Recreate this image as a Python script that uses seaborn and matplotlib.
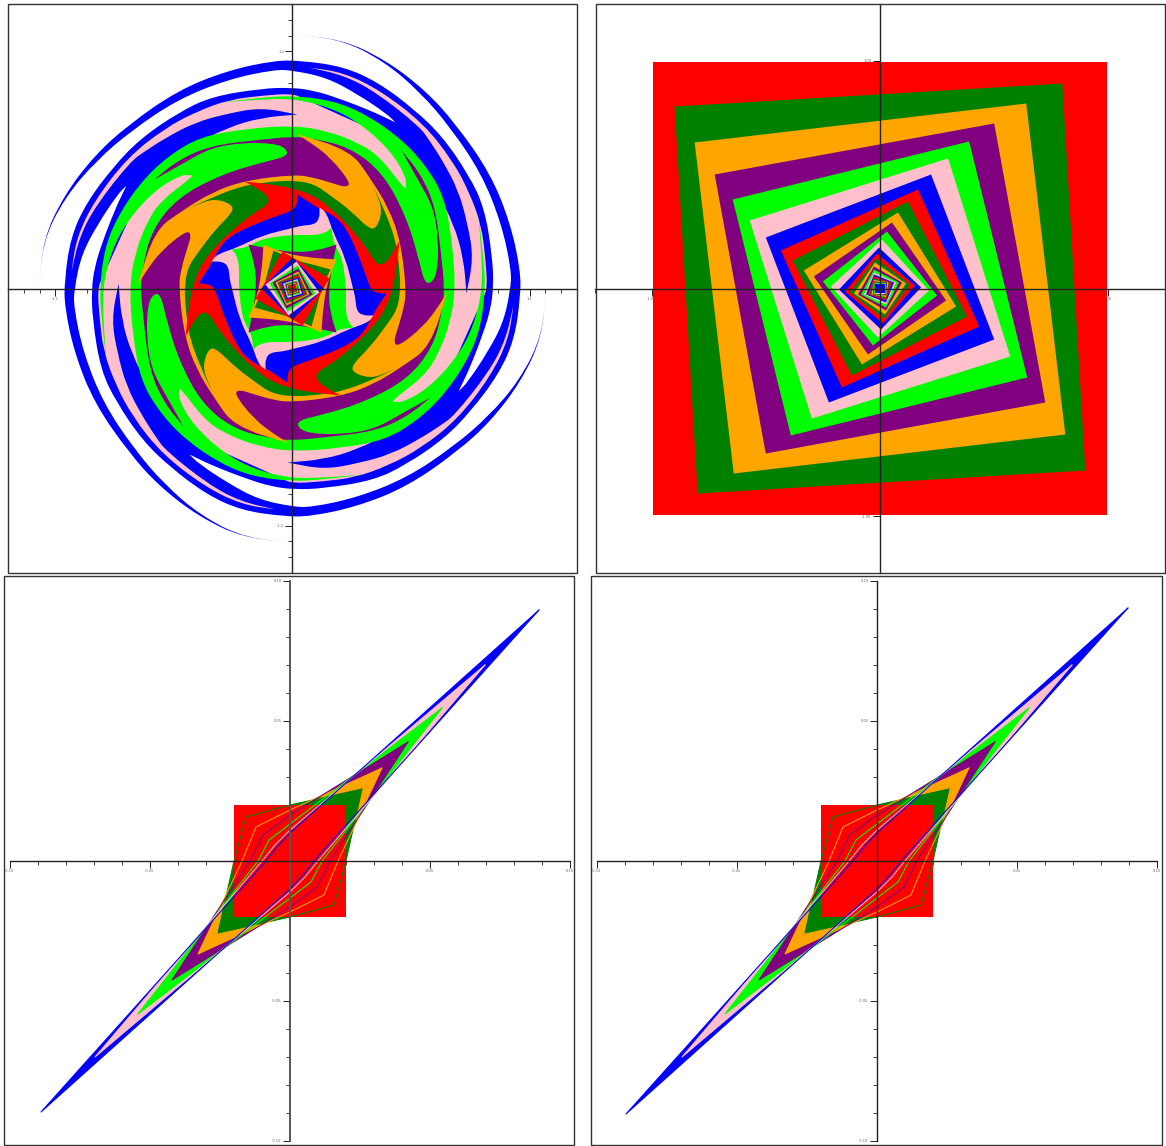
import numpy as np
import seaborn as sns
import matplotlib
matplotlib.use("Agg")
import matplotlib.pyplot as plt
from matplotlib.patches import PathPatch, Rectangle
from matplotlib.path import Path

sns.set_theme(style="ticks", rc={"axes.facecolor": "none", "figure.facecolor": "white"})

# all shape values, as offsets from each panel's origin (y down),
# SWIRL_READ etc say how many of those offsets make one axis unit
SWIRL_READ = 197.6
SQUARE_READ = 227.6
NARROW_READ = 2800.0

red, green, orange, purple, lime, pink, blue = "red", "green", "orange", "purple", "lime", "pink", "blue"

# top left panel: one quarter of each outline, the other three are the same turned by 90 degrees
# a point written twice is a sharp tip, the rest get rounded when drawn
swirl_blue_0 = [(-254, 9), (-254, 9), (-250, -48), (-228, -94), (-198, -133), (-165, -163), (-115, -198), (-65, -218),
                (-18, -228), (8, -228), (51, -222), (86, -206), (122, -179), (150, -152), (176, -114), (192, -81),
                (200, -31), (201, -1), (198, 21), (191, 44), (178, 78), (168, 99), (166, 103), (166, 103), (175, 94),
                (195, 64), (211, 34), (218, 1), (219, -18), (209, -65), (189, -115), (158, -161),
                (128, -196), (92, -227), (47, -250)]
swirl_pink_1 = [(17, -221), (17, -221), (51, -216), (88, -198), (131, -165), (160, -128), (177, -96), (189, -63),
                (193, -30), (195, 0), (190, 11), (175, 44), (155, 89), (131, 118), (98, 144), (65, 161), (31, 171),
                (-5, 174), (-5, 174), (31, 181), (65, 175), (98, 166), (128, 150), (148, 137), (162, 127),
                (196, 84), (213, 52)]
swirl_lime_2 = [(-73, -186), (-73, -186), (-30, -191), (0, -193), (40, -188), (72, -175), (106, -152), (132, -125),
                (152, -92), (160, -45), (163, 0), (158, 34), (145, 68), (131, 88), (105, 108), (100, 113), (100, 113),
                (111, 114), (138, 98), (165, 68), (181, 38), (190, 1), (189, -35)]
swirl_purple_3 = [(109, -138), (109, -138), (128, -115), (143, -82), (149, -31), (152, 0), (150, 21), (141, 58),
                  (115, 91), (71, 114), (31, 126), (5, 132), (6, 140), (18, 145), (48, 146), (81, 141), (108, 126)]
swirl_orange_4 = [(3, -155), (3, -155), (58, -138), (78, -110), (96, -81), (108, -48), (114, 2), (111, 21), (105, 41),
                  (101, 54), (106, 58), (131, 38), (146, 18)]
swirl_green_5 = [(77, -110), (77, -110), (90, -83), (103, -50), (107, -20), (108, 0), (105, 21), (93, 38), (78, 58),
                 (60, 76), (60, 84), (78, 90), (95, 84)]
swirl_red_6 = [(107, -48), (107, -48), (104, -20), (100, 1), (93, 21), (80, 39), (61, 58), (38, 76), (24, 84),
               (24, 92), (35, 100)]
swirl_blue_7 = [(5, -94), (5, -94), (26, -80), (40, -74), (53, -62), (66, -34), (76, -5), (80, 3), (88, 5)]
swirl_pink_8 = [(27, -81), (27, -81), (34, -76), (41, -55), (53, -31), (61, 2), (63, 10), (64, 22), (70, 27)]
swirl_lime_9 = [(39, -61), (39, -61), (41, -45), (50, -31), (54, 2), (53, 21), (56, 34)]
swirl_purple_10 = [(-44, -44), (-44, -44), (-20, -39), (5, -36), (25, -38)]
swirl_orange_11 = [(-29, -44), (-29, -44), (-10, -36), (15, -31)]
swirl_green_12 = [(-19, -38), (-19, -38), (0, -29), (20, -24)]
swirl_red_13 = [(-10, -37), (-10, -37), (5, -28), (20, -20)]
swirl_blue_14 = [(0, -31), (0, -31), (15, -16)]
# the small ones in the middle are plain squares, one corner each
swirl_centre = [(4, -27), (5, -23), (6, -20), (6, -17), (6, -15), (6, -13), (6, -11),
                (5, -9.5), (5, -8), (4, -7), (3.5, -6), (3, -5), (2.5, -4)]
swirl_centre_colors = [pink, lime, purple, orange, green, red, blue, pink, lime, purple, orange, green, red]

# top right panel: one corner of each square, outermost first
square_corners = [(226.5, -226.5), (182, -205), (146, -185), (114, -165), (89, -147), (68, -130), (51, -114),
                  (38, -99), (28, -87), (18, -76), (12, -66), (7, -57), (2, -49), (-1, -41),
                  (-3, -35), (-4, -30), (-5, -26), (-6, -22), (-6, -19), (-6, -16), (-6, -14),
                  (-6, -12), (-6, -10), (-6, -8.5), (-6, -7), (-5.5, -6), (-5, -5), (-4.5, -4.5)]
square_colors = [red, green, orange, purple, lime, pink, blue] * 4

# bottom panels: half of each outline, other half is the same with signs flipped
narrow_blue = [(249, -251), (24, 0), (13, 14), (0, 28)]
narrow_blue_right = [(251, -253), (24, 0), (13, 14), (0, 28)]
narrow_pink = [(195, -196), (28, 0), (15, 16), (0, 31)]
narrow_lime = [(152, -153), (32, 0), (21, 21), (0, 37)]
narrow_purple = [(118, -119), (40, 0), (27, 26), (0, 46)]
narrow_orange = [(92, -93), (48, 0), (34, 34), (0, 51)]
narrow_green = [(72, -72), (56, 0), (44, 44), (0, 56)]
narrow_red = [(56, -56), (56, 0), (56, 56), (0, 56)]


def turned(quarter):
    pts = np.array(quarter, dtype=float)
    out = [pts]
    for i in range(3):
        pts = np.column_stack([-pts[:, 1], pts[:, 0]])
        out.append(pts)
    return np.vstack(out)


def mirrored(half):
    pts = np.array(half, dtype=float)
    return np.vstack([pts, -pts])


def fill_shape(ax, pts, read, color):
    ax.fill(pts[:, 0] / read, -pts[:, 1] / read, color=color, lw=0, zorder=1)


def fill_round(ax, pts, read, color):
    # read points are the control points of a rounded outline
    xy = np.column_stack([pts[:, 0] / read, -pts[:, 1] / read])
    mids = (xy + np.roll(xy, -1, axis=0)) / 2
    verts = [mids[-1]]
    codes = [Path.MOVETO]
    for p, m in zip(xy, mids):
        verts += [p, m]
        codes += [Path.CURVE3, Path.CURVE3]
    verts.append(mids[-1])
    codes.append(Path.CLOSEPOLY)
    ax.add_patch(PathPatch(Path(verts, codes), fc=color, ec="none", lw=0, zorder=1))


def setup_axes(rect, frame, lim, minor, major, fmt, spine_color="#222222", spine_lw=1.0):
    l, t, r, b = rect
    ax = fig.add_axes([l / W, 1 - b / H, (r - l) / W, (b - t) / H])
    fl, ft, fr, fb = frame
    fig.add_artist(Rectangle((fl / W, 1 - fb / H), (fr - fl) / W, (fb - ft) / H, transform=fig.transFigure,
                             fill=False, ec="#333333", lw=1.0))
    ax.set_xlim(-lim, lim)
    ax.set_ylim(-lim, lim)
    ax.spines["top"].set_visible(False)
    ax.spines["right"].set_visible(False)
    ax.spines["left"].set_position("zero")
    ax.spines["bottom"].set_position("zero")
    ax.spines["bottom"].set_color("#222222")
    ax.spines["bottom"].set_linewidth(1.0)
    ax.spines["left"].set_color(spine_color)
    ax.spines["left"].set_linewidth(spine_lw)
    for set_ticks, set_labels in [(ax.set_xticks, ax.set_xticklabels), (ax.set_yticks, ax.set_yticklabels)]:
        set_ticks(major)
        set_labels([fmt.format(v) for v in major])
        set_ticks(minor, minor=True)
    ax.tick_params(which="major", length=5, width=0.7, color="#222222", labelsize=2.6, labelcolor="#666666", pad=1)
    ax.tick_params(which="minor", length=3, width=0.6, color="#222222")
    return ax


W, H = 1166, 1146
fig = plt.figure(figsize=(W / 100, H / 100), dpi=100)

# swirl
ax1 = setup_axes((8, 4, 577, 573), (8, 4, 577, 573), 1.44, np.arange(-18, 19) * 0.08,
                 [-1.2, -0.8, -0.4, 0.4, 0.8, 1.2], "{:.1f}")
swirl_layers = [(swirl_blue_0, blue), (swirl_pink_1, pink), (swirl_lime_2, lime), (swirl_purple_3, purple),
                (swirl_orange_4, orange), (swirl_green_5, green), (swirl_red_6, red), (swirl_blue_7, blue),
                (swirl_pink_8, pink), (swirl_lime_9, lime), (swirl_purple_10, purple), (swirl_orange_11, orange),
                (swirl_green_12, green), (swirl_red_13, red), (swirl_blue_14, blue)]
for quarter, col in swirl_layers:
    fill_round(ax1, turned(quarter), SWIRL_READ, col)
for corner, col in zip(swirl_centre, swirl_centre_colors):
    fill_shape(ax1, turned([corner]), SWIRL_READ, col)

# squares
ax2 = setup_axes((595, 4, 1165, 573), (596, 4, 1165, 573), 1.25, np.arange(-5, 6) * 0.25,
                 [-1.0, -0.5, 0.5, 1.0], "{:.2f}")
for corner, col in zip(square_corners, square_colors):
    fill_shape(ax2, turned([corner]), SQUARE_READ, col)


# the two narrow ones
def narrow_panel(ax, first_blue):
    layers = [(first_blue, blue), (narrow_pink, pink), (narrow_lime, lime), (narrow_purple, purple),
              (narrow_orange, orange), (narrow_green, green), (narrow_red, red)]
    for half, col in layers:
        fill_shape(ax, mirrored(half), NARROW_READ, col)
    # thin outlines stay visible over the red square
    for half, col in layers[5::-1]:
        pts = mirrored(half)
        pts = np.vstack([pts, pts[:1]])
        sns.lineplot(x=pts[:, 0] / NARROW_READ, y=-pts[:, 1] / NARROW_READ, sort=False, estimator=None,
                     color=col, lw=0.75, ax=ax, zorder=1.5)


narrow_minor = np.arange(-10, 11) * 0.01
narrow_major = [-0.10, -0.05, 0.05, 0.10]
ax3 = setup_axes((10, 581, 570, 1141), (4, 576, 574, 1145), 0.1, narrow_minor, narrow_major, "{:.2f}",
                 spine_color="#555555", spine_lw=1.4)
narrow_panel(ax3, narrow_blue)
ax4 = setup_axes((597, 581, 1157, 1141), (591, 576, 1162, 1145), 0.1, narrow_minor, narrow_major, "{:.2f}")
narrow_panel(ax4, narrow_blue_right)

fig.savefig("out.png", dpi=100)
